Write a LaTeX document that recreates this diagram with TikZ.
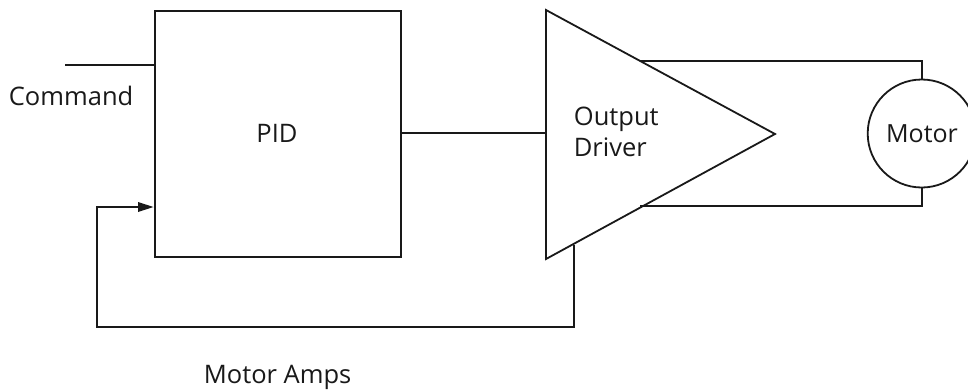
\documentclass[tikz,border=0pt]{standalone}
\usepackage{fontspec}
\setmainfont{Open Sans}
\begin{document}
\begin{tikzpicture}[x=1pt,y=-1pt,line width=1.8pt,
  lbl/.style={inner sep=0pt,font=\fontsize{25.5}{31}\selectfont,align=left,text=black!90},
  conn/.style={draw=black!90,line join=miter}]
\useasboundingbox (0,0) rectangle (968,389);
\begin{scope}
\clip (0,0) rectangle (968,389);
\node[draw=black!90,minimum width=246pt,minimum height=246pt,inner sep=0pt,anchor=north west,line width=1.8pt] (pid) at (154,10) {};
\node[lbl,anchor=base] (pidt) at (277,142.5) {PID};
\coordinate (tria) at (546,10);
\coordinate (trib) at (546,259);
\coordinate (tric) at (775,134);
\draw[conn] (tria) -- (tric) -- (trib) -- cycle;
\node[draw=black!90,circle,minimum size=108pt,inner sep=0pt,line width=1.8pt] (mot) at (921.7,133.5) {};
\node[lbl,anchor=base,font=\fontsize{25}{31}\selectfont] (mott) at (922,142.5) {Motor};
\node[lbl,anchor=base west] (drv) at (573,156.7) {Output\\Driver};
\node[lbl,anchor=base west] (cmd) at (8,105.5) {Command};
\node[lbl,anchor=base west] (amps) at (203,383) {Motor Amps};
\coordinate (cmdstart) at (65,65);
\coordinate (pidcmd) at (154,65);
\draw[conn] (cmdstart) -- (pidcmd);
\coordinate (pidout) at (400,133);
\coordinate (drvin) at (546,133);
\draw[conn] (pidout) -- (drvin);
\coordinate (u1) at (640,61);
\coordinate (u2) at (921.7,61);
\draw[conn] (u1) -- (u2) -- (mot.north);
\coordinate (l1) at (640,206);
\coordinate (l2) at (921.7,206);
\draw[conn] (l1) -- (l2) -- (mot.south);
\coordinate (fb1) at (574,245);
\coordinate (fb2) at (574,327);
\coordinate (fb3) at (97,327);
\coordinate (fb4) at (97,207);
\coordinate (fb5) at (140,207);
\draw[conn] (fb1) -- (fb2) -- (fb3) -- (fb4) -- (fb5);
\fill[black!90] (153.5,207) -- (138,202) -- (138,212) -- cycle;
\end{scope}
\end{tikzpicture}
\end{document}
